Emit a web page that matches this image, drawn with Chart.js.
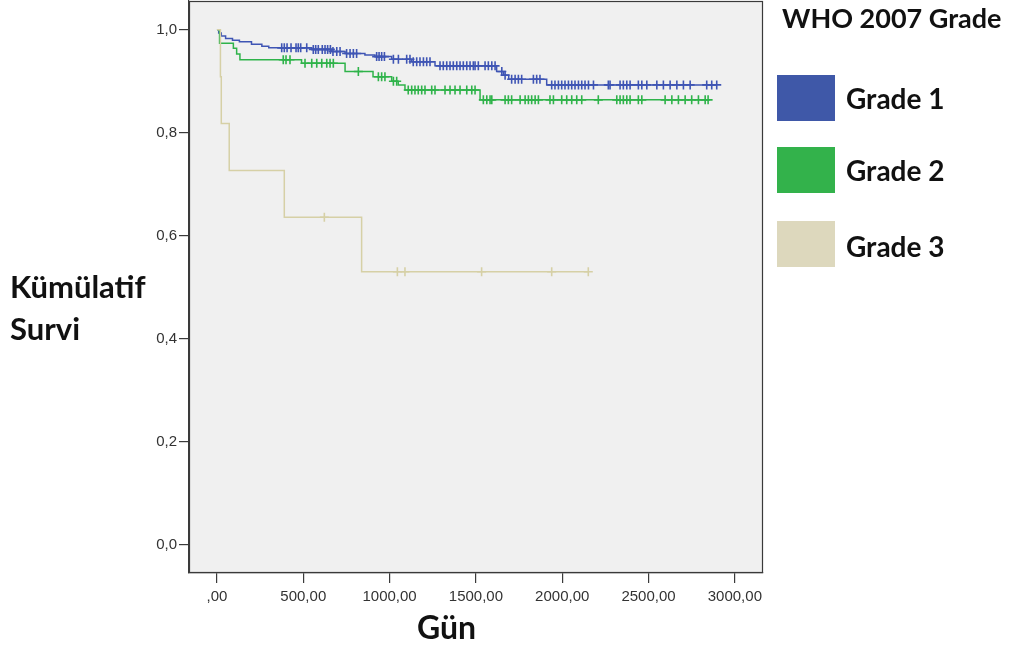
<!DOCTYPE html>
<html>
<head>
<meta charset="utf-8">
<script src="https://cdn.jsdelivr.net/npm/chart.js@4"></script>
<style>
  html, body { margin: 0; padding: 0; background: #ffffff; }
  #wrap { position: relative; width: 1016px; height: 651px; overflow: hidden; }
  canvas { position: absolute; left: 0; top: -10px; }
  .t { position: absolute; font-family: Lato, "Open Sans", sans-serif; font-weight: 700; color: #111; white-space: nowrap; }
  .sw { position: absolute; width: 58px; height: 46px; }
</style>
</head>
<body>
<div id="wrap">
  <canvas id="c" width="1016" height="661"></canvas>
  <div class="t" style="left:10px; top:265px; font-size:31px; line-height:42px;">Kümülatif<br>Survi</div>
  <div class="t" style="left:417px; top:608px; font-size:32px; line-height:38px;">Gün</div>
  <div class="t" style="left:782px; top:2px; font-size:27px; line-height:32px;">WHO 2007 Grade</div>
  <div class="sw" style="left:777px; top:75px; background:#3f58a8;"></div>
  <div class="sw" style="left:777px; top:147px; background:#33b24b;"></div>
  <div class="sw" style="left:777px; top:221px; background:#ddd8bd;"></div>
  <div class="t" style="left:846px; top:81px; font-size:28px; line-height:34px;">Grade 1</div>
  <div class="t" style="left:846px; top:153px; font-size:28px; line-height:34px;">Grade 2</div>
  <div class="t" style="left:846px; top:229px; font-size:28px; line-height:34px;">Grade 3</div>
</div>
<script>
// ---- Data (Kaplan-Meier curves) ----
const seriesNames = ["Grade 1", "Grade 2", "Grade 3"];

const grade1Time = [0, 10, 25, 50, 90, 130, 200, 260, 300,
  375, 390, 406, 429, 458, 471, 485, 520,
  549, 558, 572, 587, 610, 626, 641, 657,
  664, 672, 694, 713,
  742, 751, 771, 790, 809,
  857, 915, 925, 939, 954, 970,
  1012, 1022, 1051, 1099, 1118,
  1128, 1137, 1157, 1176, 1196, 1215, 1234,
  1263, 1292, 1311, 1331, 1350, 1369, 1389, 1408, 1427, 1447, 1466, 1485, 1495, 1514, 1553, 1572, 1592, 1611,
  1620, 1650, 1660, 1669, 1690, 1707, 1727, 1746, 1765, 1833, 1852, 1871,
  1910, 1939, 1958, 1978, 1997, 2016, 2036, 2055, 2074, 2094, 2113, 2132, 2152, 2181, 2267, 2277,
  2335, 2354, 2374, 2393, 2441, 2461, 2490, 2548, 2586, 2625, 2664, 2702, 2741, 2837, 2866, 2895];
const grade1Surv = [1.0, 0.994, 0.988, 0.983, 0.980, 0.977, 0.972, 0.968, 0.965,
  0.965, 0.965, 0.965, 0.965, 0.965, 0.965, 0.965, 0.965,
  0.962, 0.962, 0.962, 0.962, 0.962, 0.962, 0.962, 0.962,
  0.958, 0.958, 0.958, 0.958,
  0.954, 0.954, 0.954, 0.954, 0.954,
  0.951, 0.948, 0.948, 0.948, 0.948, 0.948,
  0.943, 0.943, 0.943, 0.943, 0.943,
  0.938, 0.938, 0.938, 0.938, 0.938, 0.938, 0.938,
  0.930, 0.930, 0.930, 0.930, 0.930, 0.930, 0.930, 0.930, 0.930, 0.930, 0.930, 0.930, 0.930, 0.930, 0.930, 0.930, 0.930, 0.930,
  0.919, 0.919, 0.912, 0.912, 0.904, 0.904, 0.904, 0.904, 0.904, 0.904, 0.904, 0.904,
  0.893, 0.893, 0.893, 0.893, 0.893, 0.893, 0.893, 0.893, 0.893, 0.893, 0.893, 0.893, 0.893, 0.893, 0.893, 0.893,
  0.893, 0.893, 0.893, 0.893, 0.893, 0.893, 0.893, 0.893, 0.893, 0.893, 0.893, 0.893, 0.893, 0.893, 0.893, 0.893];
const grade1Censored = [0, 0, 0, 0, 0, 0, 0, 0, 0,
  1, 1, 1, 1, 1, 1, 1, 1,
  0, 1, 1, 1, 1, 1, 1, 1,
  0, 1, 1, 1,
  0, 1, 1, 1, 1,
  0, 0, 1, 1, 1, 1,
  0, 1, 1, 1, 1,
  0, 1, 1, 1, 1, 1, 1,
  0, 1, 1, 1, 1, 1, 1, 1, 1, 1, 1, 1, 1, 1, 1, 1, 1, 1,
  0, 1, 0, 1, 0, 1, 1, 1, 1, 1, 1, 1,
  0, 1, 1, 1, 1, 1, 1, 1, 1, 1, 1, 1, 1, 1, 1, 1,
  1, 1, 1, 1, 1, 1, 1, 1, 1, 1, 1, 1, 1, 1, 1, 1];

const grade2Time = [0, 15, 95, 114, 133, 384, 400, 423,
  490, 510, 549, 578, 607, 636, 655, 674,
  742, 819,
  904, 935, 954, 973,
  1012, 1022, 1041, 1050,
  1089, 1108, 1128, 1147, 1166, 1186, 1205, 1244, 1263, 1321, 1350, 1379, 1408, 1447, 1476, 1495,
  1524, 1543, 1563, 1582, 1592, 1669, 1688, 1707, 1756, 1785, 1804, 1823, 1843, 1862, 1929, 1949,
  1997, 2026, 2055, 2084, 2113, 2209, 2316, 2335, 2354, 2374, 2393, 2441, 2461,
  2596, 2635, 2673, 2712, 2750, 2789, 2828, 2845];
const grade2Surv = [1.0, 0.974, 0.964, 0.953, 0.942, 0.942, 0.942, 0.942,
  0.935, 0.935, 0.935, 0.935, 0.935, 0.935, 0.935, 0.935,
  0.919, 0.919,
  0.909, 0.909, 0.909, 0.909,
  0.900, 0.900, 0.900, 0.893,
  0.883, 0.883, 0.883, 0.883, 0.883, 0.883, 0.883, 0.883, 0.883, 0.883, 0.883, 0.883, 0.883, 0.883, 0.883, 0.883,
  0.864, 0.864, 0.864, 0.864, 0.864, 0.864, 0.864, 0.864, 0.864, 0.864, 0.864, 0.864, 0.864, 0.864, 0.864, 0.864,
  0.864, 0.864, 0.864, 0.864, 0.864, 0.864, 0.864, 0.864, 0.864, 0.864, 0.864, 0.864, 0.864,
  0.864, 0.864, 0.864, 0.864, 0.864, 0.864, 0.864, 0.864];
const grade2Censored = [0, 0, 0, 0, 0, 1, 1, 1,
  0, 1, 1, 1, 1, 1, 1, 1,
  0, 1,
  0, 1, 1, 1,
  0, 1, 1, 0,
  0, 1, 1, 1, 1, 1, 1, 1, 1, 1, 1, 1, 1, 1, 1, 1,
  0, 1, 1, 1, 1, 1, 1, 1, 1, 1, 1, 1, 1, 1, 1, 1,
  1, 1, 1, 1, 1, 1, 1, 1, 1, 1, 1, 1, 1,
  1, 1, 1, 1, 1, 1, 1, 1];

const grade3Time = [0, 20, 25, 71, 390, 622, 838, 1045, 1089, 1533, 1939, 2151];
const grade3Surv = [1.0, 0.909, 0.818, 0.727, 0.636, 0.636, 0.530, 0.530, 0.530, 0.530, 0.530, 0.530];
const grade3Censored = [0, 0, 0, 0, 0, 1, 0, 1, 1, 1, 1, 1];

const xTicks = [0, 500, 1000, 1500, 2000, 2500, 3000];
const yTicks = [0.0, 0.2, 0.4, 0.6, 0.8, 1.0];

// ---- Chart ----
function toPoints(t, s) { return t.map((x, i) => ({ x: x, y: s[i] })); }
function censorRadius(flags) { return ctx => (flags[ctx.dataIndex] ? 4.5 : 0); }

function makeSet(name, t, s, cens, color) {
  return {
    label: name,
    data: toPoints(t, s),
    stepped: 'before',
    borderColor: color,
    backgroundColor: color,
    borderWidth: 1.5,
    fill: false,
    pointStyle: 'cross',
    pointRadius: censorRadius(cens),
    pointBorderColor: color,
    pointBorderWidth: 1.6,
    pointHoverRadius: 0
  };
}

const plotBg = {
  id: 'plotBg',
  beforeDraw(chart) {
    const a = chart.chartArea, c = chart.ctx;
    c.save();
    c.fillStyle = '#f0f0f0';
    c.fillRect(a.left, a.top, a.right - a.left, a.bottom - a.top);
    c.restore();
  },
  afterDraw(chart) {
    const a = chart.chartArea, c = chart.ctx;
    c.save();
    c.strokeStyle = '#3a3a3a';
    c.lineWidth = 1.2;
    c.strokeRect(a.left + 0.5, a.top + 0.5, a.right - a.left - 1, a.bottom - a.top - 1);
    c.restore();
  }
};

new Chart(document.getElementById('c'), {
  type: 'line',
  data: {
    datasets: [
      makeSet(seriesNames[2], grade3Time, grade3Surv, grade3Censored, '#d6d0a6'),
      makeSet(seriesNames[1], grade2Time, grade2Surv, grade2Censored, '#2fb34a'),
      makeSet(seriesNames[0], grade1Time, grade1Surv, grade1Censored, '#3f55b4')
    ]
  },
  options: {
    responsive: false,
    animation: false,
    events: [],
    layout: { padding: { left: 0, right: 253, top: 11, bottom: 0 } },
    plugins: { legend: { display: false }, tooltip: { enabled: false }, title: { display: false } },
    scales: {
      x: {
        type: 'linear',
        min: -162,
        max: 3163,
        afterFit(scale) { scale.height = 78; },
        afterBuildTicks(scale) { scale.ticks = xTicks.map(v => ({ value: v })); },
        grid: { drawOnChartArea: false, drawTicks: true, tickLength: 10, color: '#3a3a3a', lineWidth: 1.2 },
        border: { display: true, color: '#3a3a3a', width: 1.2 },
        ticks: {
          padding: 5,
          color: '#333',
          maxRotation: 0,
          autoSkip: false,
          font: { family: '"Liberation Sans", Arial, sans-serif', size: 15 },
          callback: v => (v === 0 ? ',00' : v.toFixed(2).replace('.', ','))
        }
      },
      y: {
        type: 'linear',
        min: -0.055,
        max: 1.056,
        afterFit(scale) { scale.width = 189; },
        afterBuildTicks(scale) { scale.ticks = yTicks.map(v => ({ value: v })); },
        grid: { drawOnChartArea: false, drawTicks: true, tickLength: 10, color: '#3a3a3a', lineWidth: 1.2 },
        border: { display: true, color: '#3a3a3a', width: 1.2 },
        ticks: {
          padding: 2,
          color: '#333',
          font: { family: '"Liberation Sans", Arial, sans-serif', size: 15 },
          callback: v => v.toFixed(1).replace('.', ',')
        }
      }
    }
  },
  plugins: [plotBg]
});
</script>
</body>
</html>
